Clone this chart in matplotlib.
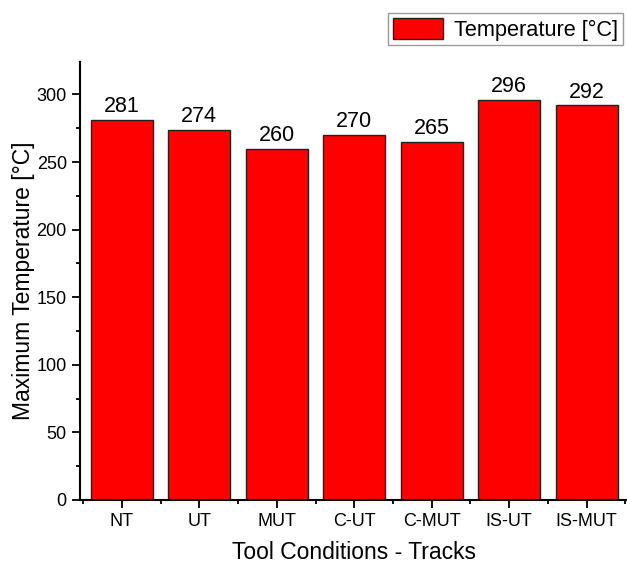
import numpy as np
import matplotlib.pyplot as plt
from matplotlib.ticker import MultipleLocator

plt.rcParams['font.family'] = ['Liberation Sans', 'DejaVu Sans']

tracks = ['NT', 'UT', 'MUT', 'C-UT', 'C-MUT', 'IS-UT', 'IS-MUT']
max_temp = [281, 274, 260, 270, 265, 296, 292]

fig = plt.figure(figsize=(6.27, 5.68), dpi=100)
ax = fig.add_axes([80 / 627, 68 / 568, 547 / 627, 438 / 568])

x = np.arange(len(tracks))
bars = ax.bar(x, max_temp, width=0.8, color='#ff0000', edgecolor='#222222',
              linewidth=1.0, label='Temperature [°C]')
for xi, v in zip(x, max_temp):
    ax.text(xi, v + 2, str(v), ha='center', va='bottom', fontsize=15.5)

ax.set_xlim(-0.54, 6.52)
ax.set_ylim(0, 324)
ax.set_xticks(x)
ax.set_xticklabels(tracks, fontsize=13)
ax.xaxis.set_minor_locator(MultipleLocator(1, offset=0.5))
ax.yaxis.set_major_locator(MultipleLocator(50))
ax.yaxis.set_minor_locator(MultipleLocator(25))
ax.tick_params(axis='y', labelsize=13)
ax.tick_params(which='major', direction='out', length=5.5, width=1.3, pad=4)
ax.tick_params(which='minor', direction='out', length=3, width=1.3)

for s in ['top', 'right']:
    ax.spines[s].set_visible(False)
for s in ['left', 'bottom']:
    ax.spines[s].set_linewidth(1.5)

ax.set_xlabel('Tool Conditions - Tracks', fontsize=16.5, labelpad=8)
ax.set_ylabel('Maximum Temperature [°C]', fontsize=16.5, labelpad=1)

fig.legend(handles=[bars], loc='upper right', bbox_to_anchor=(623 / 627, 1 - 13 / 568),
           fontsize=15.7, fancybox=False, edgecolor='#999999', framealpha=1,
           handlelength=2.3, handleheight=1.1, handletextpad=0.5,
           borderpad=0.22, borderaxespad=0)

fig.savefig('out.png', dpi=100)
